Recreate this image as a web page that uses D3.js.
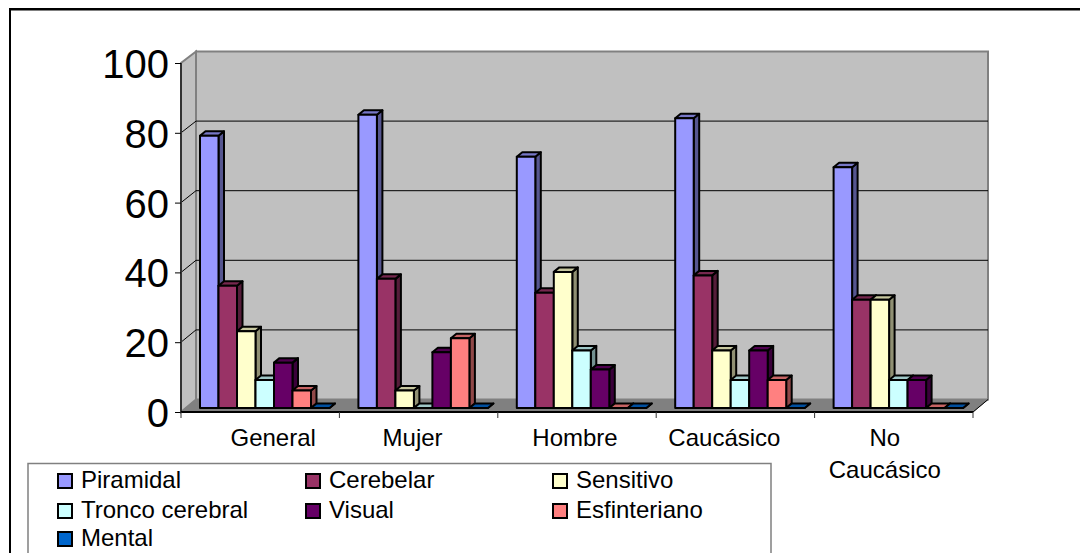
<!DOCTYPE html>
<html><head><meta charset="utf-8">
<script src="https://cdn.jsdelivr.net/npm/d3@7"></script>
<style>html,body{margin:0;padding:0;background:#fff;overflow:hidden}svg{display:block}text{font-family:"Liberation Sans",Arial,sans-serif;fill:#000}</style>
</head><body><svg id="c" width="1080" height="553"></svg>
<script>
const categories = ["General","Mujer","Hombre","Caucásico","No Caucásico"];
const seriesNames = ["Piramidal","Cerebelar","Sensitivo","Tronco cerebral","Visual","Esfinteriano","Mental"];
const seriesColors = ["#9999ff","#993366","#ffffcc","#ccffff","#660066","#ff8080","#0066cc"];
const piramidal = [78,84,72,83,69];
const cerebelar = [35,37,33,38,31];
const sensitivo = [22,5,39,16.5,31];
const tronco = [8,0,16.5,8,8];
const visual = [13,16,11,16.5,8];
const esfinteriano = [5,20,0,8,0];
const mental = [0,0,0,0,0];
const seriesValues = [piramidal,cerebelar,sensitivo,tronco,visual,esfinteriano,mental];
const yTicks = [0,20,40,60,80,100];

const svg = d3.select("#c");
const frontY = d3.scaleLinear().domain([0,100]).range([412,63]);
const backY = d3.scaleLinear().domain([0,100]).range([399.5,51.5]);
const barY = d3.scaleLinear().domain([0,100]).range([408,59]);
const x0 = d3.scaleBand().domain(categories).range([181,973]);
const xBar = d3.scaleBand().domain(seriesNames).range([19,148.5]);
const dX = 15, barDX = 5.5, barDY = 4.5;

// frame
svg.append("path").attr("d","M10,553V9H1080").attr("fill","none").attr("stroke","#000").attr("stroke-width",2);
svg.append("line").attr("x1",11).attr("x2",1080).attr("y1",10.5).attr("y2",10.5).attr("stroke","#808080").attr("stroke-width",1);

// walls
const wallStroke = "#808080";
svg.append("path").attr("d",`M181,${frontY(0)}L${181+dX},${backY(0)}H${973+dX}V${backY(100)}H${181+dX}V${backY(0)}`)
  .attr("fill","#c0c0c0").attr("stroke",wallStroke).attr("stroke-width",2);
svg.append("path").attr("d",`M181,${frontY(0)}L${181+dX},${backY(0)}V${backY(100)}L181,${frontY(100)}Z`)
  .attr("fill","#c0c0c0").attr("stroke",wallStroke).attr("stroke-width",2);
svg.append("path").attr("d",`M181,${frontY(0)}L${181+dX},${backY(0)}H${973+dX}L973,${frontY(0)}Z`)
  .attr("fill","#808080").attr("stroke","#808080");
// gridlines
yTicks.filter(d=>d>0&&d<100).forEach(t=>{
  svg.append("path").attr("d",`M181,${frontY(t)}L${181+dX},${backY(t)}H${973+dX}`).attr("fill","none").attr("stroke","#000").attr("stroke-width",1);
});
svg.append("path").attr("d",`M973,${frontY(0)}L${973+dX},${backY(0)}`).attr("stroke","#000").attr("fill","none");

// axes
const yAxis = d3.axisLeft(frontY).tickValues(yTicks).tickSize(6).tickPadding(6);
const gy = svg.append("g").attr("transform","translate(181,0)").call(yAxis);
gy.select(".domain").attr("stroke","#333").attr("stroke-width",2).attr("d",`M0,${frontY(100)}V${frontY(0)}`);
gy.selectAll("line").attr("stroke","#000");
gy.selectAll("text").attr("font-size",40).attr("font-family","Liberation Sans").attr("dy","0.36em");

const xg = svg.append("g");
xg.append("line").attr("x1",181).attr("x2",973).attr("y1",412).attr("y2",412).attr("stroke","#000").attr("stroke-width",2);
d3.range(6).forEach(i=>{
  const x = 181 + i*x0.step();
  xg.append("line").attr("x1",x).attr("x2",x).attr("y1",412).attr("y2",418).attr("stroke","#333");
});
const labelNudge = [13,-6,-2,-11,-9];
categories.forEach((c,ci)=>{
  const cx = x0(c)+x0.bandwidth()/2 + labelNudge[ci];
  const parts = c==="No Caucásico" ? ["No","Caucásico"] : [c];
  parts.forEach((p,i)=>xg.append("text").attr("x",cx).attr("y",446+i*32).attr("text-anchor","middle").attr("font-size",24).text(p));
});

// bars
categories.forEach((c,ci)=>{
  seriesNames.forEach((s,si)=>{
    const v = seriesValues[si][ci];
    const x = x0(c)+xBar(s), w = xBar.bandwidth(), y = barY(v), b = barY(0);
    const col = d3.color(seriesColors[si]);
    const g = svg.append("g").attr("stroke","#000").attr("stroke-width",2).attr("stroke-linejoin","round");
    g.append("path").attr("d",`M${x+w},${y}l${barDX},${-barDY}V${b-barDY}l${-barDX},${barDY}Z`).attr("fill",col.darker(1.6));
    g.append("path").attr("d",`M${x},${y}l${barDX},${-barDY}h${w}l${-barDX},${barDY}Z`).attr("fill",col.darker(0.7));
    g.append("rect").attr("x",x).attr("y",y).attr("width",w).attr("height",b-y).attr("fill",col);
  });
});

// legend
svg.append("path").attr("d","M28,553V463.5H771V553").attr("fill","none").attr("stroke","#808080").attr("stroke-width",1.5);
const lx = [58,306,553], ly = [481,511,539];
seriesNames.forEach((s,i)=>{
  const r = Math.floor(i/3), k = i%3;
  const g = svg.append("g");
  g.append("rect").attr("x",lx[k]).attr("y",ly[r]-7).attr("width",14).attr("height",14).attr("fill",seriesColors[i]).attr("stroke","#000").attr("stroke-width",2);
  g.append("text").attr("x",lx[k]+23).attr("y",ly[r]+7).attr("font-size",24).text(s);
});
</script></body></html>
